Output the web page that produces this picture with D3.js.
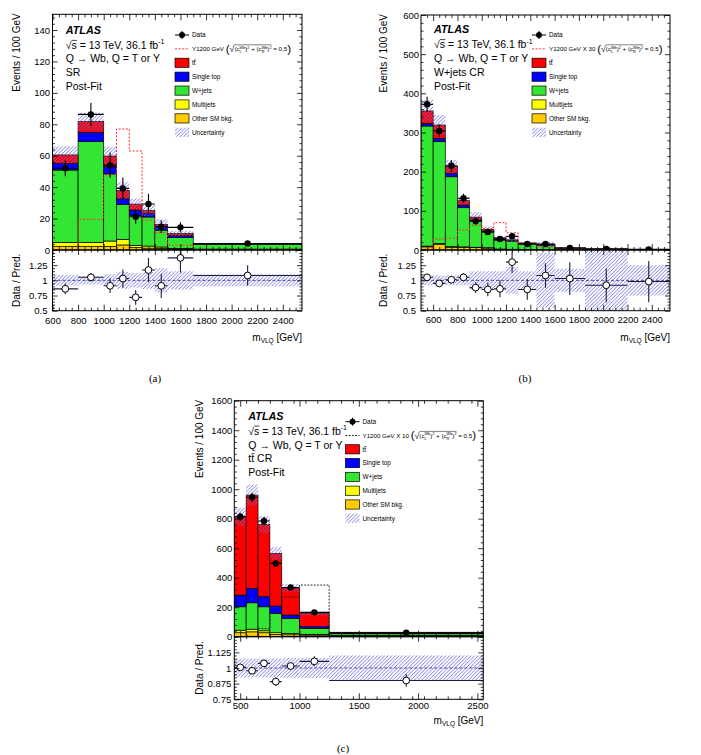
<!DOCTYPE html>
<html><head><meta charset="utf-8">
<script src="https://cdn.jsdelivr.net/npm/d3@7"></script>
<style>
body{margin:0;background:#fff}
svg{display:block}
text{font-family:"Liberation Sans",Arial,Helvetica,sans-serif;fill:#000;white-space:pre}
</style>
</head><body>
<svg id="chart" width="701" height="755"></svg>
<script>
// ---------------- DATA ----------------
// (a) Signal region
const SR_EDGES      = [600,800,1000,1100,1200,1300,1400,1500,1700,2550];
const SR_OTHER      = [2.2,2.2,2.3,3.2,1.5,1.2,1.0,0.6,0.3];
const SR_MULTIJET   = [2.6,2.6,3.4,3.6,1.4,1.3,0.9,0.4,0.3];
const SR_WJETS      = [46.1,64.2,42.7,22.2,19.2,18.5,10.7,7.0,2.9];
const SR_SINGLETOP  = [4.3,5.7,4.6,3.6,3.3,2.2,2.4,1.3,0.2];
const SR_TTBAR      = [5.3,7.0,6.8,5.3,3.8,2.0,1.3,1.3,0.2];
const SR_DATA       = [52,86.3,54,39.2,21.2,29.3,14.8,14.4,4.1];
const SR_DATA_ERR   = [5,7.2,8,7,4.5,6.5,4,3.3,0.6];
const SR_SIGNAL     = [0.3,19.5,48,77,63,19,11,3,0.3];
const SR_REL_UNC    = [0.09,0.07,0.10,0.14,0.12,0.14,0.2,0.15,0.1];
const SR_RATIO      = [0.86,1.05,0.91,1.03,0.72,1.17,0.91,1.37,1.08];
const SR_RATIO_ERR  = [0.09,0.07,0.12,0.15,0.12,0.2,0.2,0.24,0.17];
const SR_X_TICKS    = [600,800,1000,1200,1400,1600,1800,2000,2200,2400];
const SR_Y_TICKS    = [0,20,40,60,80,100,120,140];

// (b) W+jets control region
const WJ_EDGES      = [500,600,700,800,900,1000,1100,1200,1300,1450,1600,1850,2200,2550];
const WJ_OTHER      = [8,14,7,7,6,5,2,1.5,1,0.8,0.3,0.2,0.1];
const WJ_MULTIJET   = [2,3,1.5,1,1,0.8,0.5,0.3,0.2,0.1,0.05,0.02,0.01];
const WJ_WJETS      = [306.6,259.6,178.5,100,67,40.7,22.9,20.7,14.3,11.3,4.05,2.08,1.39];
const WJ_SINGLETOP  = [6.4,8.4,9,7,3,2,2.1,1.5,1,0.8,0.3,0.2,0.1];
const WJ_TTBAR      = [32,34,17,11,7,4,3.9,2,1.5,1,0.3,0.2,0.1];
const WJ_DATA       = [372,304,215,132,73.7,45.8,28,35,15.3,15.3,5.2,2.5,1.7];
const WJ_DATA_ERR   = [19,17,15,11.5,8.6,6.8,5.3,6,3.2,3.2,1.45,0.85,0.7];
const WJ_SIGNAL     = [2,28,30,51,63,55,70,44,18,8,3,1,0.3];
const WJ_REL_UNC    = [0.08,0.08,0.08,0.08,0.15,0.15,0.15,0.22,0.15,0.45,0.19,0.5,0.25];
const WJ_RATIO      = [1.05,0.95,1.01,1.05,0.88,0.85,0.86,1.30,0.85,1.08,1.03,0.92,0.98];
const WJ_RATIO_ERR  = [0.05,0.05,0.06,0.07,0.09,0.11,0.14,0.18,0.17,0.2,0.27,0.28,0.34];
const WJ_X_TICKS    = [600,800,1000,1200,1400,1600,1800,2000,2200,2400];
const WJ_Y_TICKS    = [0,100,200,300,400,500,600];

// (c) ttbar control region
const TT_EDGES      = [450,550,650,750,850,1000,1250,2550];
const TT_OTHER      = [27,33,27,16,13,11,5];
const TT_MULTIJET   = [17,18,13,11,9,5,3];
const TT_WJETS      = [159,179,163,131,102,40,12];
const TT_SINGLETOP  = [79,98,68,50,23,12,4];
const TT_TTBAR      = [531,632,489,357,183,89,6];
const TT_DATA       = [813,945,784,497,334,165,27];
const TT_DATA_ERR   = [28,31,28,22,15,8,1.5];
const TT_SIGNAL     = [0,3,55,160,270,350,1];
const TT_REL_UNC    = [0.075,0.075,0.075,0.075,0.08,0.08,0.1];
const TT_RATIO      = [1.005,0.978,1.037,0.891,1.016,1.053,0.90];
const TT_RATIO_ERR  = [0.02,0.02,0.025,0.035,0.03,0.04,0.05];
const TT_X_TICKS    = [500,1000,1500,2000,2500];
const TT_Y_TICKS    = [0,200,400,600,800,1000,1200,1400,1600];

const RATIO_TICKS_AB = [0.5,0.75,1,1.25];
const RATIO_TICKS_C  = [0.75,0.875,1,1.125];

const LEGEND_LABELS = ['Data','SIGNAL','tt','Single top','W+jets','Multijets','Other SM bkg.','Uncertainty'];
const COLORS = {other:'#ffcc00', mj:'#ffff00', wj:'#33e633', st:'#0000ff', tt:'#ff0000'};
const HATCH_COLOR = '#6a6ae0';

// ---------------- DRAWING ----------------
const svg = d3.select('#chart');
const defs = svg.append('defs');
const pat = defs.append('pattern').attr('id','hatch').attr('patternUnits','userSpaceOnUse')
  .attr('width',3.6).attr('height',3.6);
pat.append('path').attr('d','M-1,1 l2,-2 M0,3.6 l3.6,-3.6 M2.6,4.6 l2,-2')
  .attr('stroke',HATCH_COLOR).attr('stroke-width',0.9);

function rich(parent, x, y, pieces, anchor) {
  const g = parent.append('g');
  let cx = 0, stackW = 0; const marks = {};
  pieces.forEach(p => {
    if (p.mark) { marks[p.mark] = cx; return; }
    const dy = p.dy || 0;
    const t = g.append('text').attr('x', cx).attr('y', dy).attr('font-size', p.fs)
      .attr('xml:space','preserve').style('white-space','pre').text(p.t);
    if (p.bold) t.attr('font-weight','bold');
    if (p.italic) t.attr('font-style','italic');
    const w = t.node().getComputedTextLength();
    if (p.over) g.append('line').attr('x1',cx+0.2).attr('x2',cx+w+0.3)
        .attr('y1',dy-p.fs*0.8).attr('y2',dy-p.fs*0.8).attr('stroke','#000').attr('stroke-width',0.7);
    if (p.stack) { stackW = w; }
    else { cx += Math.max(w, stackW); stackW = 0; }
  });
  const dx = anchor === 'end' ? -cx : anchor === 'middle' ? -cx/2 : 0;
  g.attr('transform', `translate(${x+dx},${y})`);
  return {g, width: cx, marks};
}

function minorTicks(lo, hi, step, majors) {
  return d3.range(lo, hi + step*0.01, step).filter(v => !majors.some(m => Math.abs(m - v) < step*0.01));
}

function addAxis(g, axis, tx, ty, fs) {
  const a = g.append('g').attr('transform', `translate(${tx},${ty})`).call(axis);
  a.select('.domain').remove();
  a.selectAll('line').attr('stroke','#000').attr('stroke-width',0.8);
  a.selectAll('text').attr('font-size', fs || 9.5).attr('font-family','"Liberation Sans",Arial,sans-serif').attr('fill','#000');
  a.attr('font-size', null).attr('font-family', null);
  return a;
}

function drawPanel(c) {
  const x = d3.scaleLinear().domain(c.xDomain).range([c.x0, c.x1]);
  const y = d3.scaleLinear().domain([0, c.yMax]).range([c.yMid, c.yTop]);
  const yr = d3.scaleLinear().domain(c.rDomain).range([c.yBot, c.yMid]);
  const nb = c.edges.length - 1;
  const E = c.edges;
  defs.append('clipPath').attr('id','m'+c.id).append('rect')
    .attr('x',c.x0).attr('y',c.yTop).attr('width',c.x1-c.x0).attr('height',c.yMid-c.yTop);
  defs.append('clipPath').attr('id','r'+c.id).append('rect')
    .attr('x',c.x0).attr('y',c.yMid).attr('width',c.x1-c.x0).attr('height',c.yBot-c.yMid);

  // ---- main panel ----
  const gm = svg.append('g').attr('clip-path',`url(#m${c.id})`);
  const rows = d3.range(nb).map(i => ({other:c.other[i], mj:c.mj[i], wj:c.wj[i], st:c.st[i], tt:c.tt[i]}));
  const series = d3.stack().keys(['other','mj','wj','st','tt'])(rows);
  series.forEach(s => {
    gm.append('g').selectAll('rect').data(s).join('rect')
      .attr('x', (d,i) => x(E[i])).attr('width', (d,i) => x(E[i+1]) - x(E[i]))
      .attr('y', d => y(d[1])).attr('height', d => Math.max(0, y(d[0]) - y(d[1])))
      .attr('fill', COLORS[s.key]).attr('stroke','#000').attr('stroke-width',0.7);
  });
  const totals = series[series.length-1].map(d => d[1]);
  gm.append('g').selectAll('rect').data(totals).join('rect')
    .attr('x', (d,i) => x(E[i])).attr('width', (d,i) => x(E[i+1]) - x(E[i]))
    .attr('y', (d,i) => y(d*(1+c.relUnc[i])))
    .attr('height', (d,i) => y(d*(1-c.relUnc[i])) - y(d*(1+c.relUnc[i])))
    .attr('fill','url(#hatch)');
  const pts = [[E[0],0]];
  c.signal.forEach((v,i) => { pts.push([E[i],v]); pts.push([E[i+1],v]); });
  pts.push([E[nb],0]);
  gm.append('path').attr('d', d3.line().x(p => x(p[0])).y(p => y(p[1]))(pts))
    .attr('fill','none').attr('stroke',c.sigColor).attr('stroke-width',1).attr('stroke-dasharray',c.sigDash);
  const gd = gm.append('g');
  c.data.forEach((v,i) => {
    const cx = x((E[i]+E[i+1])/2), cy = y(v);
    gd.append('line').attr('x1',cx).attr('x2',cx).attr('y1',y(v-c.dataErr[i])).attr('y2',y(v+c.dataErr[i])).attr('stroke','#000').attr('stroke-width',1.1);
    gd.append('line').attr('x1',x(E[i])).attr('x2',x(E[i+1])).attr('y1',cy).attr('y2',cy).attr('stroke','#000').attr('stroke-width',1.1);
    gd.append('circle').attr('cx',cx).attr('cy',cy).attr('r',3.2).attr('fill','#000');
  });

  // ---- ratio panel ----
  const gr = svg.append('g').attr('clip-path',`url(#r${c.id})`);
  gr.append('g').selectAll('rect').data(c.relUnc).join('rect')
    .attr('x', (d,i) => x(E[i])).attr('width', (d,i) => x(E[i+1]) - x(E[i]))
    .attr('y', d => yr(1+d)).attr('height', d => yr(1-d) - yr(1+d))
    .attr('fill','url(#hatch)');
  gr.append('line').attr('x1',c.x0).attr('x2',c.x1).attr('y1',yr(1)).attr('y2',yr(1))
    .attr('stroke','#3a3aa0').attr('stroke-width',0.9).attr('stroke-dasharray','3,2');
  const rc = '#1c1c45';
  c.ratio.forEach((v,i) => {
    const cx = x((E[i]+E[i+1])/2), cy = yr(v);
    gr.append('line').attr('x1',cx).attr('x2',cx).attr('y1',yr(v-c.ratioErr[i])).attr('y2',yr(v+c.ratioErr[i])).attr('stroke',rc).attr('stroke-width',1.1);
    gr.append('line').attr('x1',x(E[i])).attr('x2',x(E[i+1])).attr('y1',cy).attr('y2',cy).attr('stroke',rc).attr('stroke-width',1.1);
    gr.append('circle').attr('cx',cx).attr('cy',cy).attr('r',3.4).attr('fill','#fff').attr('stroke','#000').attr('stroke-width',1);
  });

  // ---- axes ----
  const ga = svg.append('g');
  const xMin = minorTicks(c.xDomain[0], c.xDomain[1], c.xMinorStep, c.xTicks).filter(v => v > c.xDomain[0] && v < c.xDomain[1]);
  const yMin = minorTicks(0, c.yMax, c.yMinorStep, c.yTicks);
  const rMin = minorTicks(c.rDomain[0], c.rDomain[1], c.rMinorStep, c.rTicks);
  const rMaj = c.rTicks.concat([c.rDomain[1]]);
  addAxis(ga, d3.axisLeft(y).tickValues(c.yTicks).tickSize(-5).tickPadding(c.yPad).tickFormat(d3.format('d')), c.x0, 0);
  addAxis(ga, d3.axisLeft(y).tickValues(yMin).tickSize(-2.5).tickFormat(''), c.x0, 0);
  addAxis(ga, d3.axisRight(y).tickValues(c.yTicks).tickSize(-5).tickFormat(''), c.x1, 0);
  addAxis(ga, d3.axisRight(y).tickValues(yMin).tickSize(-2.5).tickFormat(''), c.x1, 0);
  [[d3.axisTop, c.yTop],[d3.axisBottom, c.yMid]].forEach(([f, yy]) => {
    addAxis(ga, f(x).tickValues(c.xTicks).tickSize(-6).tickFormat(''), 0, yy);
    addAxis(ga, f(x).tickValues(xMin).tickSize(-3).tickFormat(''), 0, yy);
  });
  addAxis(ga, d3.axisLeft(yr).tickValues(c.rTicks).tickSize(-5).tickPadding(c.rPad).tickFormat(d => String(d)), c.x0, 0);
  addAxis(ga, d3.axisLeft(yr).tickValues(rMin).tickSize(-2.5).tickFormat(''), c.x0, 0);
  addAxis(ga, d3.axisRight(yr).tickValues(rMaj).tickSize(-5).tickFormat(''), c.x1, 0);
  addAxis(ga, d3.axisRight(yr).tickValues(rMin).tickSize(-2.5).tickFormat(''), c.x1, 0);
  addAxis(ga, d3.axisBottom(x).tickValues(c.xTicks).tickSize(-6).tickPadding(c.xPad).tickFormat(d3.format('d')), 0, c.yBot);
  addAxis(ga, d3.axisBottom(x).tickValues(xMin).tickSize(-3).tickFormat(''), 0, c.yBot);
  addAxis(ga, d3.axisTop(x).tickValues(c.xTicks).tickSize(-5).tickFormat(''), 0, c.yMid);
  addAxis(ga, d3.axisTop(x).tickValues(xMin).tickSize(-2.5).tickFormat(''), 0, c.yMid);
  ga.append('rect').attr('x',c.x0).attr('y',c.yTop).attr('width',c.x1-c.x0).attr('height',c.yMid-c.yTop)
    .attr('fill','none').attr('stroke','#000').attr('stroke-width',1);
  ga.append('rect').attr('x',c.x0).attr('y',c.yMid).attr('width',c.x1-c.x0).attr('height',c.yBot-c.yMid)
    .attr('fill','none').attr('stroke','#000').attr('stroke-width',1);

  // axis titles
  svg.append('text').attr('transform',`translate(${c.yTitleX},${c.yTop-1}) rotate(-90)`)
    .attr('text-anchor','end').attr('font-size',10).text('Events / 100 GeV');
  svg.append('text').attr('transform',`translate(${c.yTitleX},${(c.yMid+c.yBot)/2}) rotate(-90)`)
    .attr('text-anchor','middle').attr('font-size',10).text('Data / Pred.');
  rich(svg, c.x1, c.xTitleY, [
    {t:'m', fs:10}, {t:'VLQ', fs:6.5, dy:2.5}, {t:' [GeV]', fs:10}
  ], 'end');

  // caption
  svg.append('text').attr('x',c.capX).attr('y',c.capY).attr('text-anchor','middle')
    .style('font-family','"Liberation Serif","Times New Roman",serif')
    .attr('font-size',11).text(c.caption);

  // ATLAS text block
  const T = c.text;
  rich(svg, T.x, T.ys[0], [{t:'ATLAS', fs:10.8, bold:true, italic:true}]);
  rich(svg, T.x, T.ys[1], [{t:'√', fs:10.5}, {t:'s', fs:10.5, over:true}, {t:' = 13 TeV, 36.1 fb', fs:10.5}, {t:'-1', fs:7, dy:-4.5}]);
  rich(svg, T.x, T.ys[2], [{t:'Q → Wb, Q = T or Y', fs:10.5}]);
  rich(svg, T.x, T.ys[3], T.region);
  rich(svg, T.x, T.ys[4], [{t:'Post-Fit', fs:10.5}]);

  // legend
  const L = c.legend, w = 14, lx = L.x;
  const lg = svg.append('g');
  LEGEND_LABELS.forEach((lab, k) => {
    const yc = L.y0 + k*L.step;
    const tx = lx + w + 3, fs = 6.4;
    if (k === 0) {
      lg.append('line').attr('x1',lx).attr('x2',lx+w).attr('y1',yc).attr('y2',yc).attr('stroke','#000').attr('stroke-width',1);
      lg.append('line').attr('x1',lx+w/2).attr('x2',lx+w/2).attr('y1',yc-4).attr('y2',yc+4).attr('stroke','#000').attr('stroke-width',1);
      lg.append('circle').attr('cx',lx+w/2).attr('cy',yc).attr('r',3).attr('fill','#000');
      rich(lg, tx, yc+2.3, [{t:lab, fs}]);
    } else if (k === 1) {
      lg.append('line').attr('x1',lx).attr('x2',lx+w).attr('y1',yc).attr('y2',yc)
        .attr('stroke',c.sigColor).attr('stroke-width',1).attr('stroke-dasharray',c.sigDash);
      const r = rich(lg, tx, yc+2.3, [
        {t:'Y1200 GeV' + L.scale + ' ', fs:6.2},
        {t:'(', fs:11.5, dy:1.6},
        {t:'√', fs:8.8, dy:1.2}, {mark:'s0'},
        {t:'(c', fs:6.2}, {t:'Wb', fs:3.8, dy:-2.7, stack:true}, {t:'L', fs:3.8, dy:1.7},
        {t:')', fs:6.2}, {t:'2', fs:3.8, dy:-2.7},
        {t:' + (c', fs:6.2}, {t:'Wb', fs:3.8, dy:-2.7, stack:true}, {t:'R', fs:3.8, dy:1.7},
        {t:')', fs:6.2}, {t:'2', fs:3.8, dy:-2.7}, {mark:'s1'},
        {t:' = 0.5', fs:6.2},
        {t:')', fs:11.5, dy:1.6}
      ]);
      r.g.append('line').attr('x1',r.marks.s0).attr('x2',r.marks.s1).attr('y1',-6.4).attr('y2',-6.4)
        .attr('stroke','#000').attr('stroke-width',0.5);
    } else {
      const fills = [null,null,COLORS.tt,COLORS.st,COLORS.wj,COLORS.mj,COLORS.other,'url(#hatch)'];
      lg.append('rect').attr('x',lx).attr('y',yc-4.6).attr('width',w).attr('height',9.2)
        .attr('fill',fills[k]).attr('stroke', k === 7 ? 'none' : '#000').attr('stroke-width',0.7);
      if (k === 2) rich(lg, tx, yc+2.3, [{t:'t', fs}, {t:'t', fs, over:true}]);
      else rich(lg, tx, yc+2.3, [{t:lab, fs}]);
    }
  });
}

const PANELS = [
  {id:'a', edges:SR_EDGES, other:SR_OTHER, mj:SR_MULTIJET, wj:SR_WJETS, st:SR_SINGLETOP, tt:SR_TTBAR,
   data:SR_DATA, dataErr:SR_DATA_ERR, signal:SR_SIGNAL, relUnc:SR_REL_UNC, ratio:SR_RATIO, ratioErr:SR_RATIO_ERR,
   xTicks:SR_X_TICKS, yTicks:SR_Y_TICKS, rTicks:RATIO_TICKS_AB,
   xDomain:[600,2550], yMax:150, rDomain:[0.5,1.5], xMinorStep:50, yMinorStep:4, rMinorStep:0.05,
   x0:52.5, x1:302, yTop:14.3, yMid:250, yBot:310.7, yPad:2.5, rPad:5, xPad:7,
   yTitleX:19.5, xTitleY:340.5, capX:155, capY:382, caption:'(a)',
   sigColor:'#ff3030', sigDash:'2,1.6',
   text:{x:65.7, ys:[33.8,48.8,62.3,75.7,89.5], region:[{t:'SR', fs:10.5}]},
   legend:{x:175, y0:35, step:13.9, scale:''}},
  {id:'b', edges:WJ_EDGES, other:WJ_OTHER, mj:WJ_MULTIJET, wj:WJ_WJETS, st:WJ_SINGLETOP, tt:WJ_TTBAR,
   data:WJ_DATA, dataErr:WJ_DATA_ERR, signal:WJ_SIGNAL, relUnc:WJ_REL_UNC, ratio:WJ_RATIO, ratioErr:WJ_RATIO_ERR,
   xTicks:WJ_X_TICKS, yTicks:WJ_Y_TICKS, rTicks:RATIO_TICKS_AB,
   xDomain:[500,2550], yMax:600, rDomain:[0.5,1.5], xMinorStep:50, yMinorStep:20, rMinorStep:0.05,
   x0:421, x1:670, yTop:15, yMid:250, yBot:310.7, yPad:2, rPad:5, xPad:6,
   yTitleX:386.8, xTitleY:340.5, capX:525, capY:382, caption:'(b)',
   sigColor:'#ff3030', sigDash:'2,1.6',
   text:{x:434, ys:[33.2,48,62.1,75.5,89.5], region:[{t:'W+jets CR', fs:10.5}]},
   legend:{x:532, y0:35, step:13.9, scale:' X 30'}},
  {id:'c', edges:TT_EDGES, other:TT_OTHER, mj:TT_MULTIJET, wj:TT_WJETS, st:TT_SINGLETOP, tt:TT_TTBAR,
   data:TT_DATA, dataErr:TT_DATA_ERR, signal:TT_SIGNAL, relUnc:TT_REL_UNC, ratio:TT_RATIO, ratioErr:TT_RATIO_ERR,
   xTicks:TT_X_TICKS, yTicks:TT_Y_TICKS, rTicks:RATIO_TICKS_C,
   xDomain:[450,2550], yMax:1600, rDomain:[0.75,1.25], xMinorStep:100, yMinorStep:40, rMinorStep:0.025,
   x0:234.3, x1:483.3, yTop:400.7, yMid:636.7, yBot:699.3, yPad:2, rPad:3, xPad:2.5,
   yTitleX:202.8, xTitleY:723.5, capX:343, capY:752, caption:'(c)',
   sigColor:'#222', sigDash:'1.8,1.4',
   text:{x:248.3, ys:[419.8,434.5,448.8,462.1,475.5], region:[{t:'t', fs:10.5}, {t:'t', fs:10.5, over:true}, {t:' CR', fs:10.5}]},
   legend:{x:345.5, y0:421.7, step:13.8, scale:' X 10'}}
];

PANELS.forEach(drawPanel);
</script>
</body></html>
